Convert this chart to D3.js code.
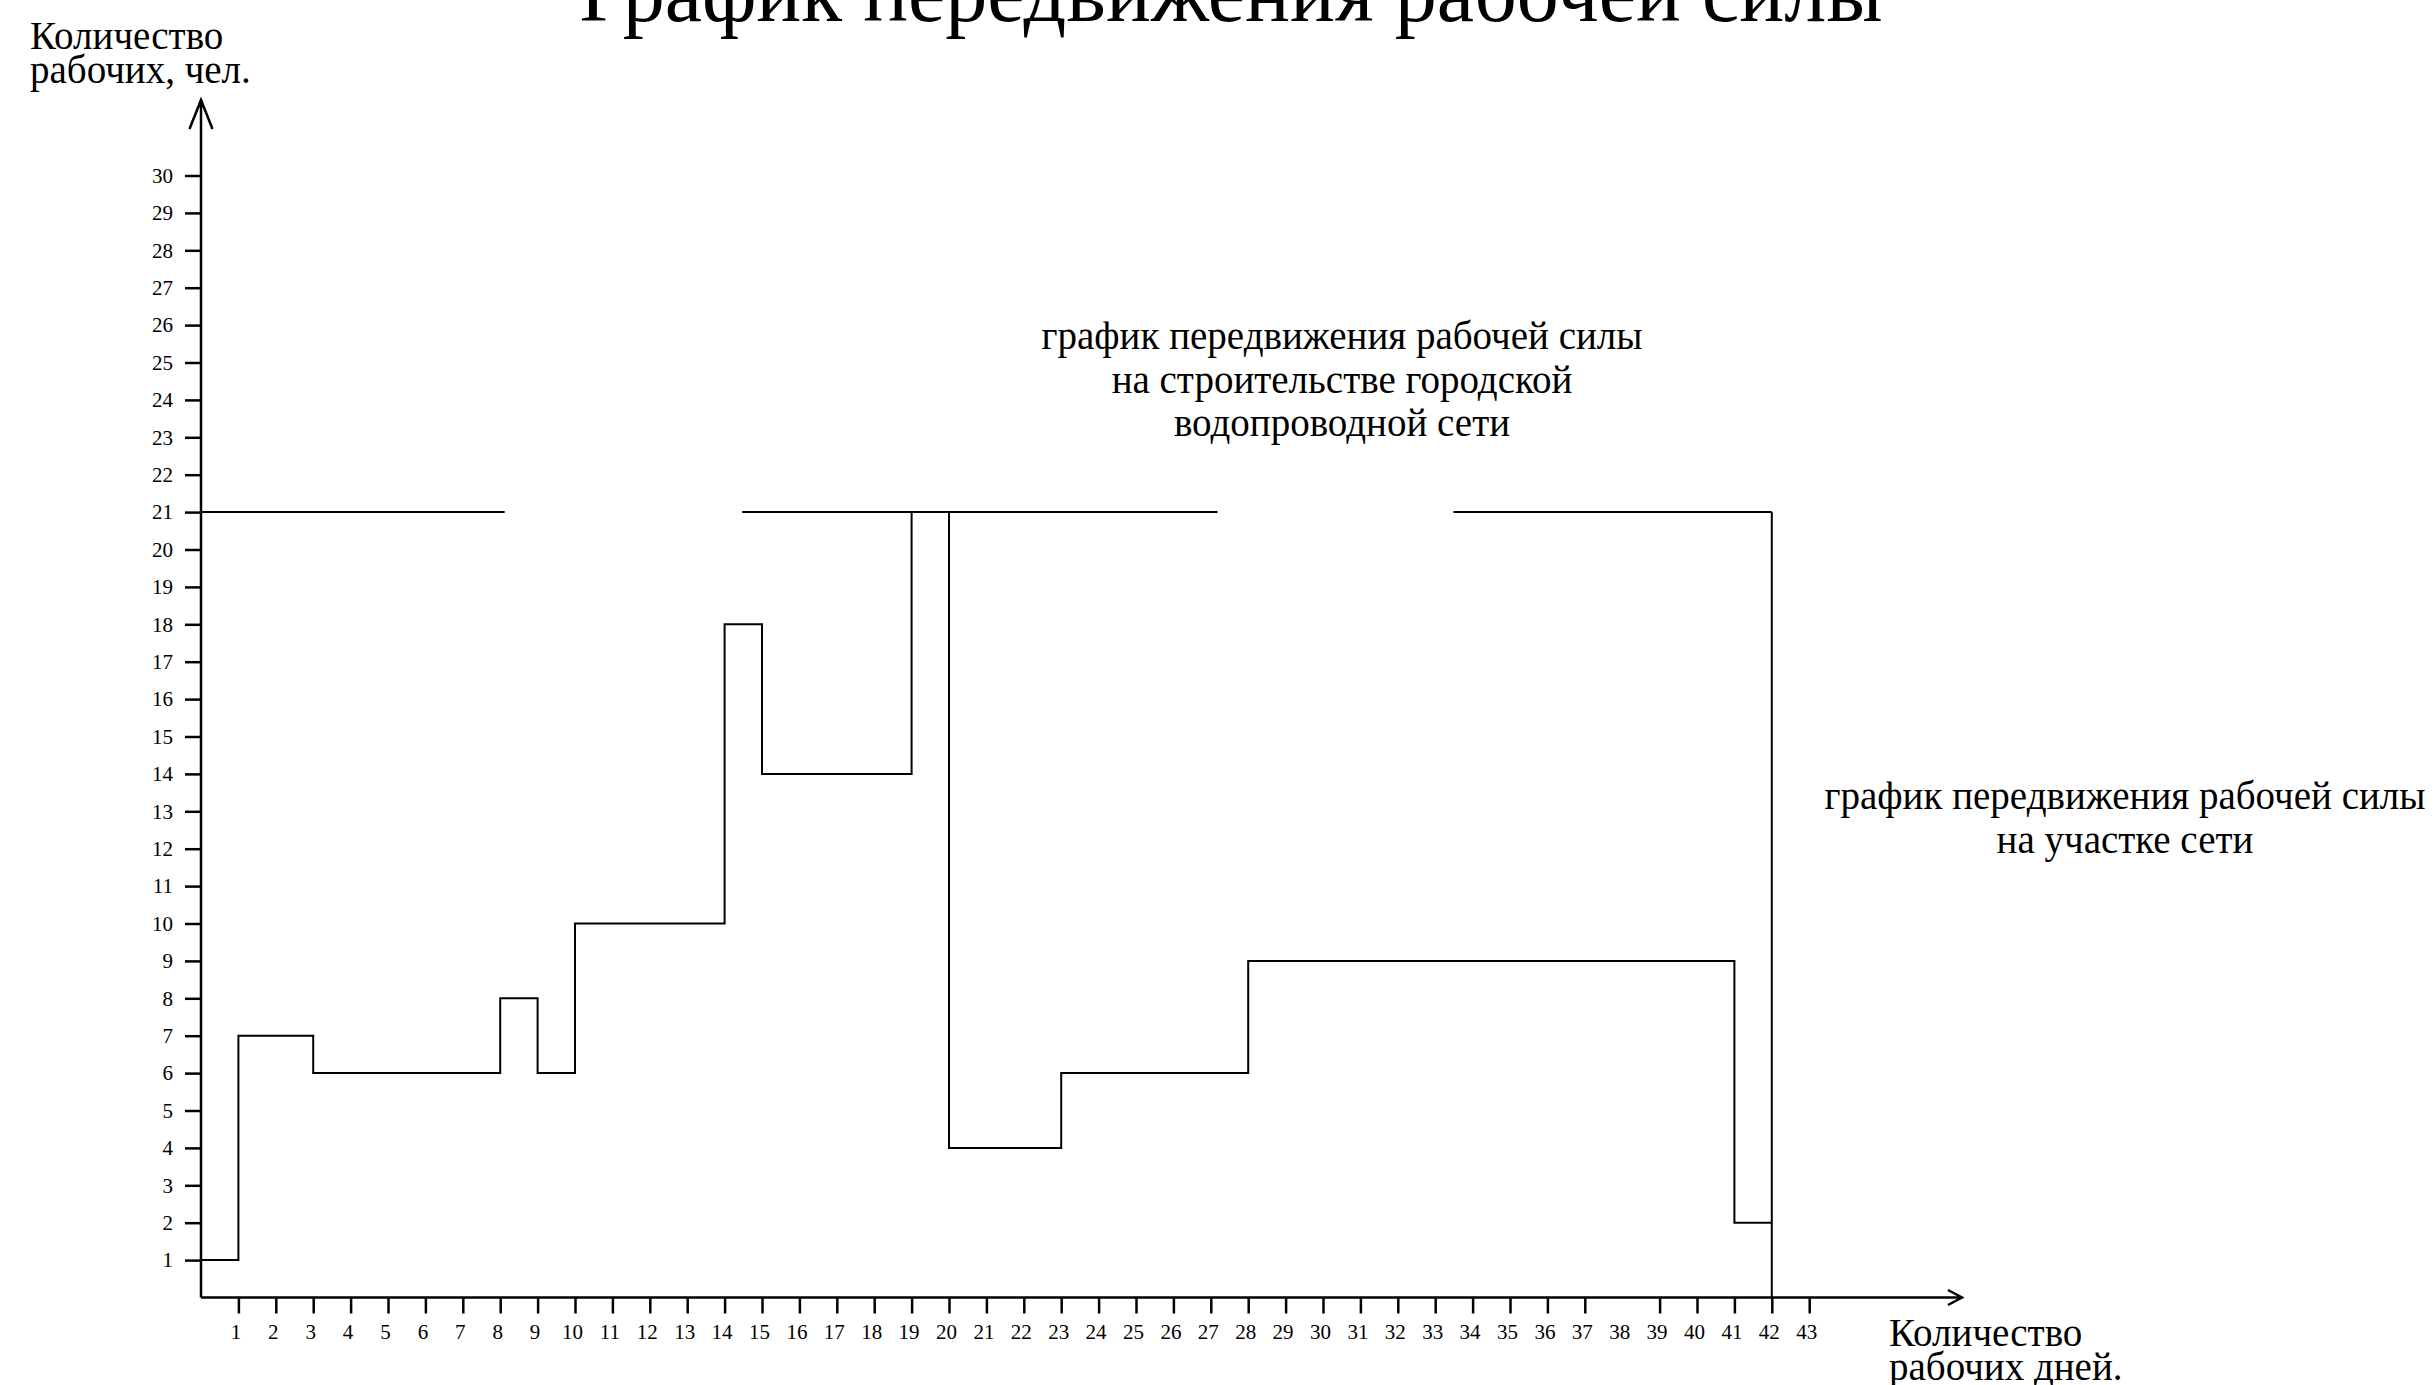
<!DOCTYPE html>
<html>
<head>
<meta charset="utf-8">
<script src="https://cdn.jsdelivr.net/npm/d3@7"></script>
<style>
  html, body { margin: 0; padding: 0; background: #fff; }
  svg { display: block; }
  text { font-family: "Liberation Serif", "Times New Roman", serif; fill: #000; }
</style>
</head>
<body>
<svg id="chart" width="2434" height="1385"></svg>
<script>
// ---- data ----
const stepDays   = [0, 1, 3, 8, 9, 10, 14, 15, 19, 20, 23, 28, 41, 42];
const stepValues = [1, 7, 6, 8, 6, 10, 18, 14, 21, 4, 6, 9, 2, 2];
const totalLevel = 21;
const totalSegments = [[0, 8.12], [14.47, 27.18], [33.49, 42]];
const totalEndDay = 42;
const xTickDays = d3.range(1, 44);
const xTickMarksMissing = [38];
const yTickValues = d3.range(1, 31);
const titleText = "График передвижения рабочей силы";
const yAxisLabel = ["Количество", "рабочих, чел."];
const xAxisLabel = ["Количество", "рабочих дней."];
const noteTotal = ["график передвижения рабочей силы", "на строительстве городской", "водопроводной сети"];
const noteSite = ["график передвижения рабочей силы", "на участке сети"];

// ---- layout ----
const svg = d3.select("#chart");
const x = d3.scaleLinear().domain([0, 42]).range([201, 201 + 42 * 37.4]);
const y = d3.scaleLinear().domain([0, 30]).range([1297.5, 1297.5 - 30 * 37.4]);
const xAxisEnd = 1962, yAxisTop = 100;

// title
svg.append("text").attr("x", 1231).attr("y", 21).attr("text-anchor", "middle")
  .attr("font-size", 84).text(titleText);

// axis labels
const yl = svg.append("text").attr("font-size", 39);
yAxisLabel.forEach((t, i) => yl.append("tspan").attr("x", 30).attr("y", 49 + i * 34).text(t));
const xl = svg.append("text").attr("font-size", 39);
xAxisLabel.forEach((t, i) => xl.append("tspan").attr("x", 1889).attr("y", 1346 + i * 34).text(t));

// notes
const n1 = svg.append("text").attr("text-anchor", "middle").attr("font-size", 39);
noteTotal.forEach((t, i) => n1.append("tspan").attr("x", 1342).attr("y", 349 + i * 43.7).text(t));
const n2 = svg.append("text").attr("text-anchor", "middle").attr("font-size", 39);
noteSite.forEach((t, i) => n2.append("tspan").attr("x", 2125).attr("y", 809 + i * 43.7).text(t));

// axes
const yAxis = d3.axisLeft(y).tickValues(yTickValues).tickSize(16).tickPadding(12).tickFormat(d3.format("d"));
const gy = svg.append("g").attr("transform", `translate(${x(0)},0)`).call(yAxis);
gy.attr("font-family", null);
gy.select(".domain").remove();
gy.selectAll(".tick line").attr("stroke", "#000").attr("stroke-width", 2.5);
gy.selectAll(".tick text").attr("font-size", 21);

const xAxis = d3.axisBottom(x).tickValues(xTickDays).tickSize(16).tickPadding(11).tickFormat(d3.format("d"));
const gx = svg.append("g").attr("transform", `translate(0,${y(0)})`).call(xAxis);
gx.attr("font-family", null);
gx.select(".domain").remove();
gx.selectAll(".tick line").attr("stroke", "#000").attr("stroke-width", 2.5)
  .attr("display", d => xTickMarksMissing.includes(d) ? "none" : null);
gx.selectAll(".tick text").attr("font-size", 21).attr("dx", -3);

// axis lines with open arrows
svg.append("path").attr("fill", "none").attr("stroke", "#000").attr("stroke-width", 2.5)
  .attr("d", `M${x(0)},${y(0)}V${yAxisTop}M${x(0) - 11.5},${yAxisTop + 29}L${x(0)},${yAxisTop}L${x(0) + 11.5},${yAxisTop + 29}`);
svg.append("path").attr("fill", "none").attr("stroke", "#000").attr("stroke-width", 2.5)
  .attr("d", `M${x(0)},${y(0)}H${xAxisEnd}M${xAxisEnd - 14},${y(0) - 7.5}L${xAxisEnd},${y(0)}L${xAxisEnd - 14},${y(0) + 7.5}`);

// total level line
totalSegments.forEach(s => {
  svg.append("line").attr("x1", x(s[0])).attr("x2", x(s[1])).attr("y1", y(totalLevel)).attr("y2", y(totalLevel))
    .attr("stroke", "#000").attr("stroke-width", 2);
});
svg.append("line").attr("x1", x(totalEndDay)).attr("x2", x(totalEndDay)).attr("y1", y(totalLevel)).attr("y2", y(0))
  .attr("stroke", "#000").attr("stroke-width", 2);

// site step line
const pts = stepDays.map((d, i) => [d, stepValues[i]]);
const line = d3.line().x(d => x(d[0])).y(d => y(d[1])).curve(d3.curveStepAfter);
svg.append("path").datum(pts).attr("fill", "none").attr("stroke", "#000").attr("stroke-width", 2).attr("d", line);
</script>
</body>
</html>
